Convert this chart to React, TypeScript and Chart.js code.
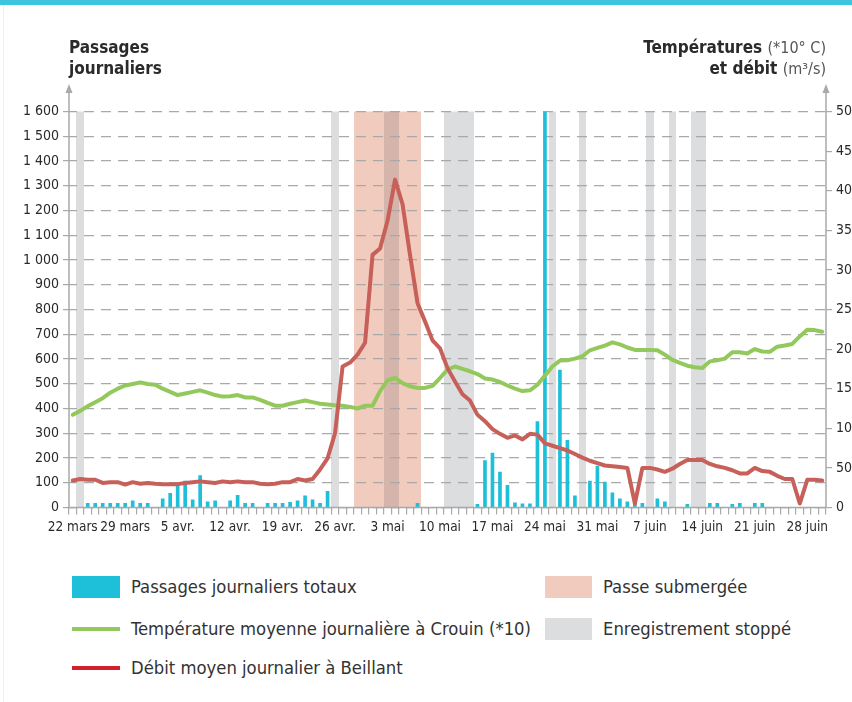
import React, { useEffect, useRef } from 'react';
import { Chart, registerables } from 'chart.js';

Chart.register(...registerables);

// ---- Data -------------------------------------------------------------
const months: [string, number, number][] = [
  ['mars', 22, 31],
  ['avr.', 1, 30],
  ['mai', 1, 31],
  ['juin', 1, 30],
];
const categories: string[] = [];
months.forEach(([m, a, b]) => {
  for (let d = a; d <= b; d++) categories.push(`${d} ${m}`);
});

const weekLabels = [
  '22 mars', '29 mars', '5 avr.', '12 avr.', '19 avr.', '26 avr.', '3 mai', '10 mai',
  '17 mai', '24 mai', '31 mai', '7 juin', '14 juin', '21 juin', '28 juin',
];

// Passages journaliers totaux (left axis) — 22 mars .. 30 juin
const passages = [
  0, 0, 17, 17, 17, 17, 17, 17, 27, 17,
  17, 0, 35, 57, 91, 107, 31, 129, 23, 27,
  0, 27, 49, 17, 17, 0, 17, 17, 17, 21,
  27, 47, 31, 17, 65, 0, 0, 0, 0, 0,
  0, 0, 0, 0, 0, 0, 17, 0, 0, 0,
  0, 0, 0, 0, 13, 190, 220, 143, 90, 19,
  15, 15, 347, 1600, 0, 555, 271, 47, 0, 107,
  167, 103, 59, 35, 23, 17, 17, 0, 35, 23,
  0, 0, 13, 0, 0, 17, 17, 0, 13, 17,
  0, 17, 17, 0, 0, 0, 0, 0, 0, 0,
  0,
];

// Température moyenne journalière à Crouin (*10) (right axis)
const temperature = [
  117, 122, 128, 133, 138, 145, 150, 154, 156, 158,
  156, 155, 150, 146, 142, 144, 146, 148, 145, 142,
  140, 140.5, 142, 139, 139, 136, 132, 128.5, 128.5, 131,
  133, 135, 133, 131, 130, 129, 128.5, 127, 125, 128.5,
  128.5, 147, 160.5, 163.5, 157, 153, 151, 151, 153.5, 163.5,
  174, 178, 175, 172, 168.5, 163, 161.5, 158.5, 154, 150,
  147, 148, 155, 166.5, 178, 185.5, 186, 188, 191, 198.5,
  201.5, 204.5, 208.5, 206, 202, 199, 199, 199, 198.5, 193,
  186.5, 182.5, 179, 177, 176, 184.5, 186, 188, 196, 196,
  194.5, 200, 197, 196.5, 203, 204.5, 206.5, 216, 224.5, 224,
  222,
];

// Débit moyen journalier à Beillant (right axis)
const debit = [
  34, 36, 35, 35, 31, 32, 32, 29, 32, 30,
  31, 30, 29.5, 29.5, 29.5, 31, 32, 33, 32, 31,
  33, 32, 33, 32, 32, 30, 29.5, 30, 32, 32,
  36, 34, 36, 48, 62, 94, 178, 183, 193, 208,
  319, 327, 362, 414, 383, 319, 258, 235, 211, 201,
  176, 159, 143, 135, 117, 109, 99, 93, 88, 91,
  86, 93, 92, 81, 78, 75, 72, 67.5, 63, 59,
  56, 53, 52, 51, 50, 5, 50, 50, 48, 45,
  49, 55, 60, 60, 60, 55, 52, 50, 47, 43,
  43, 50, 46, 45, 40, 36, 36, 5, 35, 35,
  34,
];

// Day indices (into categories)
const submergedDays = [38, 39, 40, 41, 42, 43, 44, 45, 46];
const stoppedDays = [1, 35, 42, 43, 50, 51, 52, 53, 64, 68, 77, 80, 83, 84];

const leftTicksMax = 1600;
const rightTicksMax = 500;

// ---- Styles -----------------------------------------------------------
const FONT = "'DejaVu Sans Condensed', 'DejaVu Sans', sans-serif";
const C_BAR = '#1ebfd9';
const C_TEMP = '#93c95c';
const C_DEBIT = '#c8605a';
const C_DEBIT_LEG = '#d4202c';
const C_PINK = '#f2cbbf';
const C_GRAY = '#dcdddf';
const C_OVERLAP = '#d5b4ab';
const C_AXIS = '#a9a9a9';
const C_TEXT = '#2a2a2a';

function fmtThousands(v: number): string {
  if (v >= 1000) {
    const th = Math.floor(v / 1000);
    const rest = String(v % 1000).padStart(3, '0');
    return `${th} ${rest}`;
  }
  return String(v);
}

// group consecutive day indices into runs [start, end]
function runs(days: number[]): [number, number][] {
  const out: [number, number][] = [];
  [...days].sort((a, b) => a - b).forEach((d) => {
    const last = out[out.length - 1];
    if (last && d === last[1] + 1) last[1] = d;
    else out.push([d, d]);
  });
  return out;
}

const bandsPlugin = {
  id: 'bands',
  beforeDraw(chart: any) {
    const { ctx, chartArea, scales } = chart;
    const x = scales.x;
    const w = (chartArea.right - chartArea.left) / categories.length;
    ctx.save();
    const draw = (a: number, b: number, color: string) => {
      const x0 = Math.round(x.getPixelForValue(a) - w / 2);
      const x1 = Math.round(x.getPixelForValue(b) + w / 2);
      ctx.fillStyle = color;
      ctx.fillRect(x0, chartArea.top, x1 - x0, chartArea.bottom - chartArea.top);
    };
    runs(submergedDays).forEach(([a, b]) => draw(a, b, C_PINK));
    const plain = stoppedDays.filter((d) => !submergedDays.includes(d));
    const over = stoppedDays.filter((d) => submergedDays.includes(d));
    runs(plain).forEach(([a, b]) => draw(a, b, C_GRAY));
    runs(over).forEach(([a, b]) => draw(a, b, C_OVERLAP));
    ctx.restore();
  },
};

const decorPlugin = {
  id: 'decor',
  afterDraw(chart: any) {
    const { ctx, chartArea } = chart;
    ctx.save();
    ctx.strokeStyle = C_AXIS;
    ctx.fillStyle = C_AXIS;
    ctx.lineWidth = 1.5;
    const arrowTop = 84;
    [chartArea.left, chartArea.right].forEach((xx: number) => {
      ctx.beginPath();
      ctx.moveTo(xx, chartArea.bottom);
      ctx.lineTo(xx, arrowTop + 6);
      ctx.stroke();
      ctx.beginPath();
      ctx.moveTo(xx, arrowTop);
      ctx.lineTo(xx - 3.5, arrowTop + 9);
      ctx.lineTo(xx + 3.5, arrowTop + 9);
      ctx.closePath();
      ctx.fill();
    });
    // x axis line
    ctx.beginPath();
    ctx.moveTo(chartArea.left, chartArea.bottom);
    ctx.lineTo(chartArea.right, chartArea.bottom);
    ctx.stroke();

    // Titles
    ctx.textBaseline = 'alphabetic';
    ctx.fillStyle = C_TEXT;
    ctx.font = `bold 17px ${FONT}`;
    ctx.textAlign = 'left';
    ctx.fillText('Passages', chartArea.left, 53);
    ctx.fillText('journaliers', chartArea.left, 74);

    const right = chartArea.right;
    const drawPair = (bold: string, normal: string, y: number) => {
      ctx.font = `16px ${FONT}`;
      const wn = ctx.measureText(normal).width;
      ctx.textAlign = 'right';
      ctx.fillStyle = '#555';
      ctx.fillText(normal, right, y);
      ctx.font = `bold 17px ${FONT}`;
      ctx.fillStyle = C_TEXT;
      ctx.fillText(bold, right - wn, y);
    };
    drawPair('Températures ', '(*10° C)', 53);
    drawPair('et débit ', '(m³/s)', 74);
    ctx.restore();
  },
};

function ChartCanvas() {
  const ref = useRef<HTMLCanvasElement | null>(null);
  useEffect(() => {
    if (!ref.current) return;
    const chart = new Chart(ref.current, {
      type: 'bar',
      data: {
        labels: categories,
        datasets: [
          {
            type: 'line',
            label: 'Débit moyen journalier à Beillant',
            data: debit,
            yAxisID: 'y2',
            borderColor: C_DEBIT,
            borderWidth: 4,
            pointRadius: 0,
            tension: 0,
            borderJoinStyle: 'round',
            borderCapStyle: 'round',
            order: 0,
          } as any,
          {
            type: 'line',
            label: 'Température moyenne journalière à Crouin (*10)',
            data: temperature,
            yAxisID: 'y2',
            borderColor: C_TEMP,
            borderWidth: 4,
            pointRadius: 0,
            tension: 0,
            borderJoinStyle: 'round',
            borderCapStyle: 'round',
            order: 1,
          } as any,
          {
            type: 'bar',
            label: 'Passages journaliers totaux',
            data: passages,
            yAxisID: 'y',
            backgroundColor: C_BAR,
            barThickness: 3,
            order: 2,
          } as any,
        ],
      },
      options: {
        animation: false,
        responsive: false,
        devicePixelRatio: 1,
        layout: { padding: { top: 111.5, bottom: 2.5, left: 0, right: 0 } },
        plugins: { legend: { display: false }, tooltip: { enabled: false } },
        scales: {
          x: {
            offset: true,
            grid: {
              display: true,
              drawOnChartArea: false,
              drawTicks: true,
              tickLength: 7,
              color: C_AXIS,
              lineWidth: 1.2,
              offset: true,
            },
            border: { display: false },
            ticks: {
              autoSkip: false,
              maxRotation: 0,
              minRotation: 0,
              padding: 5,
              color: C_TEXT,
              font: { family: FONT, size: 13.5 },
              callback: (_v: any, i: number) => (weekLabels.includes(categories[i]) ? categories[i] : ''),
            },
            afterFit: (s: any) => { s.height = 40; },
          },
          y: {
            position: 'left',
            min: 0,
            max: leftTicksMax,
            grid: {
              color: C_AXIS,
              lineWidth: 1.2,
              tickLength: 6,
              drawTicks: true,
            },
            border: { display: false, dash: [10, 7], dashOffset: 2 },
            ticks: {
              stepSize: 100,
              padding: 4,
              color: C_TEXT,
              font: { family: FONT, size: 14 },
              callback: (v: any) => fmtThousands(Number(v)),
            },
            afterFit: (s: any) => { s.width = 69; },
          },
          y2: {
            position: 'right',
            min: 0,
            max: rightTicksMax,
            grid: {
              drawOnChartArea: false,
              color: C_AXIS,
              lineWidth: 1.2,
              tickLength: 6,
            },
            border: { display: false },
            ticks: {
              stepSize: 50,
              padding: 4,
              color: C_TEXT,
              font: { family: FONT, size: 14 },
              callback: (v: any) => String(v),
            },
            afterFit: (s: any) => { s.width = 44; },
          },
        },
      },
      plugins: [bandsPlugin, decorPlugin],
    });
    return () => chart.destroy();
  }, []);
  return <canvas ref={ref} width={870} height={550} style={{ position: 'absolute', left: 0, top: 0 }} />;
}

const legendText: React.CSSProperties = {
  position: 'absolute',
  fontFamily: FONT,
  fontSize: 18.3,
  color: '#333',
  lineHeight: '22px',
  whiteSpace: 'nowrap',
};

export default function App() {
  useEffect(() => {
    document.body.style.margin = '0';
    document.body.style.overflow = 'hidden';
  }, []);
  return (
    <div style={{ position: 'relative', width: 852, height: 702, overflow: 'hidden', background: '#fff' }}>
      <div style={{ position: 'absolute', left: 0, top: 0, width: 852, height: 5, background: '#3fc4e0' }} />
      <div style={{ position: 'absolute', left: 3, top: 5, width: 1, height: 697, background: '#efefef' }} />
      <ChartCanvas />
      {/* Legend */}
      <div style={{ position: 'absolute', left: 72, top: 576, width: 48, height: 22, background: C_BAR }} />
      <div style={{ ...legendText, left: 131, top: 576 }}>Passages journaliers totaux</div>
      <div style={{ position: 'absolute', left: 72, top: 627, width: 48, height: 4, background: C_TEMP }} />
      <div style={{ ...legendText, left: 131, top: 618 }}>Température moyenne journalière à Crouin (*10)</div>
      <div style={{ position: 'absolute', left: 72, top: 666, width: 48, height: 4, background: C_DEBIT_LEG }} />
      <div style={{ ...legendText, left: 131, top: 657 }}>Débit moyen journalier à Beillant</div>
      <div style={{ position: 'absolute', left: 545, top: 576, width: 47, height: 22, background: C_PINK }} />
      <div style={{ ...legendText, left: 603, top: 576 }}>Passe submergée</div>
      <div style={{ position: 'absolute', left: 545, top: 618, width: 47, height: 22, background: C_GRAY }} />
      <div style={{ ...legendText, left: 603, top: 618 }}>Enregistrement stoppé</div>
    </div>
  );
}
